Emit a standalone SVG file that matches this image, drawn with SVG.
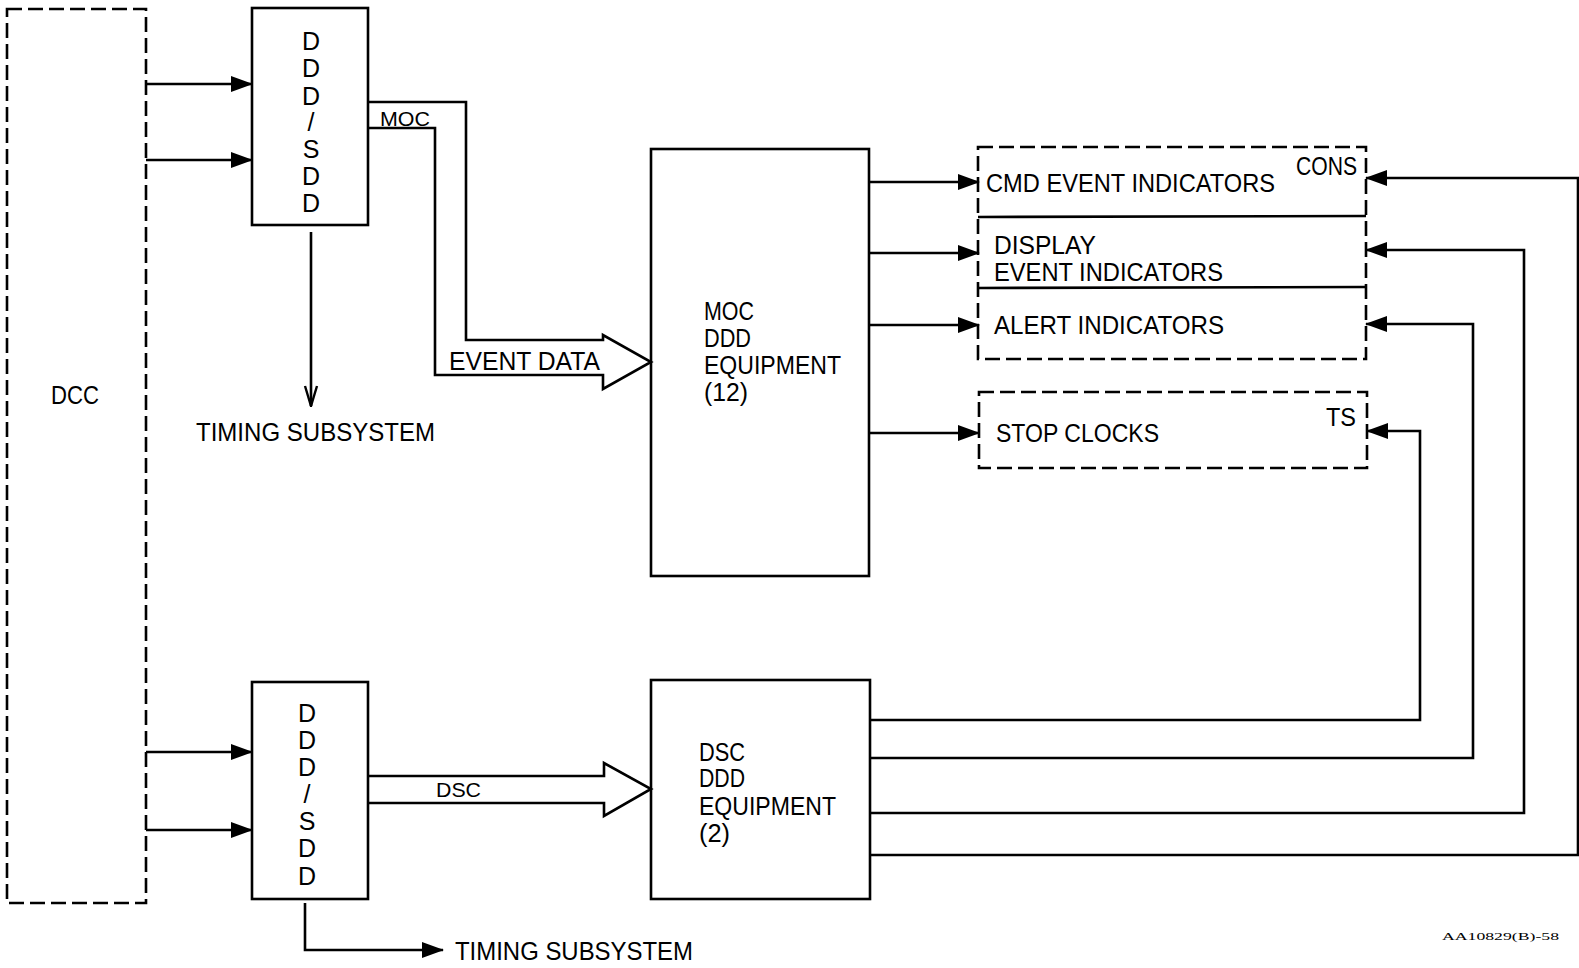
<svg xmlns="http://www.w3.org/2000/svg" width="1579" height="968" viewBox="0 0 1579 968">
<style>
.box{fill:none;stroke:#000;stroke-width:2.6}
.dash{fill:none;stroke:#000;stroke-width:2.6;stroke-dasharray:15 6}
.ln{fill:none;stroke:#000;stroke-width:2.6}
.t{font-family:"Liberation Sans",Arial,sans-serif;font-size:25px;fill:#000}
.c{text-anchor:middle}
.s{font-size:21px}
</style>
<defs>
<marker id="ah" markerWidth="22" markerHeight="16" refX="21" refY="8" orient="auto" markerUnits="userSpaceOnUse">
<path d="M0,0 L22,8 L0,16 Z" fill="#000"/>
</marker>
<marker id="ao" markerWidth="16" markerHeight="22" refX="8" refY="21" orient="0" markerUnits="userSpaceOnUse">
<path d="M2,1 L8,21 L14,1" fill="none" stroke="#000" stroke-width="2.4"/>
</marker>
</defs>
<rect width="1579" height="968" fill="#fff"/>

<g id="dcc">
<rect class="dash" x="7" y="9" width="139" height="894"/>
<text class="t" x="51" y="404" textLength="48" lengthAdjust="spacingAndGlyphs">DCC</text>
</g>

<g id="dddsdd-top">
<rect class="box" x="252" y="8" width="116" height="217"/>
<g class="t c">
<text x="311" y="50">D</text><text x="311" y="77">D</text><text x="311" y="105">D</text><text x="311" y="131">/</text><text x="311" y="158">S</text><text x="311" y="185">D</text><text x="311" y="212">D</text>
</g>
</g>

<g id="dddsdd-bottom">
<rect class="box" x="252" y="682" width="116" height="217"/>
<g class="t c">
<text x="307" y="722">D</text><text x="307" y="749">D</text><text x="307" y="776">D</text><text x="307" y="803">/</text><text x="307" y="830">S</text><text x="307" y="857">D</text><text x="307" y="885">D</text>
</g>
</g>

<g id="moc-equipment">
<rect class="box" x="651" y="149" width="218" height="427"/>
<text class="t" x="704" y="320" textLength="50" lengthAdjust="spacingAndGlyphs">MOC</text>
<text class="t" x="704" y="347" textLength="47" lengthAdjust="spacingAndGlyphs">DDD</text>
<text class="t" x="704" y="374" textLength="137" lengthAdjust="spacingAndGlyphs">EQUIPMENT</text>
<text class="t" x="704" y="401" textLength="44" lengthAdjust="spacingAndGlyphs">(12)</text>
</g>

<g id="dsc-equipment">
<rect class="box" x="651" y="680" width="219" height="219"/>
<text class="t" x="699" y="761" textLength="46" lengthAdjust="spacingAndGlyphs">DSC</text>
<text class="t" x="699" y="787" textLength="46" lengthAdjust="spacingAndGlyphs">DDD</text>
<text class="t" x="699" y="815" textLength="137" lengthAdjust="spacingAndGlyphs">EQUIPMENT</text>
<text class="t" x="699" y="842" textLength="31" lengthAdjust="spacingAndGlyphs">(2)</text>
</g>

<g id="cons">
<rect class="dash" x="978" y="147" width="388" height="212"/>
<line class="ln" x1="978" y1="217" x2="1366" y2="216"/>
<line class="ln" x1="978" y1="288" x2="1366" y2="287"/>
<text class="t" x="1296" y="175" textLength="61" lengthAdjust="spacingAndGlyphs">CONS</text>
<text class="t" x="986" y="192" textLength="289" lengthAdjust="spacingAndGlyphs">CMD EVENT INDICATORS</text>
<text class="t" x="994" y="254" textLength="102" lengthAdjust="spacingAndGlyphs">DISPLAY</text>
<text class="t" x="994" y="281" textLength="229" lengthAdjust="spacingAndGlyphs">EVENT INDICATORS</text>
<text class="t" x="994" y="334" textLength="230" lengthAdjust="spacingAndGlyphs">ALERT INDICATORS</text>
</g>

<g id="ts">
<rect class="dash" x="979" y="392" width="388" height="76"/>
<text class="t" x="1326" y="426" textLength="30" lengthAdjust="spacingAndGlyphs">TS</text>
<text class="t" x="996" y="442" textLength="163" lengthAdjust="spacingAndGlyphs">STOP CLOCKS</text>
</g>

<g id="timing-top">
<text class="t" x="196" y="441" textLength="239" lengthAdjust="spacingAndGlyphs">TIMING SUBSYSTEM</text>
</g>
<g id="timing-bottom">
<text class="t" x="455" y="960" textLength="238" lengthAdjust="spacingAndGlyphs">TIMING SUBSYSTEM</text>
</g>

<g id="connectors">
<line class="ln" x1="146" y1="84" x2="252" y2="84" marker-end="url(#ah)"/>
<line class="ln" x1="146" y1="160" x2="252" y2="160" marker-end="url(#ah)"/>
<line class="ln" x1="146" y1="752" x2="252" y2="752" marker-end="url(#ah)"/>
<line class="ln" x1="146" y1="830" x2="252" y2="830" marker-end="url(#ah)"/>
<line class="ln" x1="311" y1="232" x2="311" y2="406" marker-end="url(#ao)"/>
<polyline class="ln" points="305,903 305,950 443,950" marker-end="url(#ah)"/>
<polyline class="ln" points="368,102 466,102 466,340 603,340 603,335 651,362 603,389 603,375 435,375 435,128 368,128"/>
<text class="t s" x="380" y="126" textLength="50" lengthAdjust="spacingAndGlyphs">MOC</text>
<text class="t" x="449" y="370" textLength="151" lengthAdjust="spacingAndGlyphs">EVENT DATA</text>
<polyline class="ln" points="368,776 604,776 604,763 651,789 604,816 604,803 368,803"/>
<text class="t s" x="436" y="797" textLength="45" lengthAdjust="spacingAndGlyphs">DSC</text>
<line class="ln" x1="869" y1="182" x2="979" y2="182" marker-end="url(#ah)"/>
<line class="ln" x1="869" y1="253" x2="979" y2="253" marker-end="url(#ah)"/>
<line class="ln" x1="869" y1="325" x2="979" y2="325" marker-end="url(#ah)"/>
<line class="ln" x1="869" y1="433" x2="979" y2="433" marker-end="url(#ah)"/>
<polyline class="ln" points="870,720 1420,720 1420,431 1367,431" marker-end="url(#ah)"/>
<polyline class="ln" points="870,758 1473,758 1473,324 1366,324" marker-end="url(#ah)"/>
<polyline class="ln" points="870,813 1524,813 1524,250 1366,250" marker-end="url(#ah)"/>
<polyline class="ln" points="870,855 1578,855 1578,178 1366,178" marker-end="url(#ah)"/>
</g>

<text x="1442" y="940" style="font-family:'Liberation Serif',serif;font-size:11px" textLength="117" lengthAdjust="spacingAndGlyphs">AA10829(B)-58</text>
</svg>
